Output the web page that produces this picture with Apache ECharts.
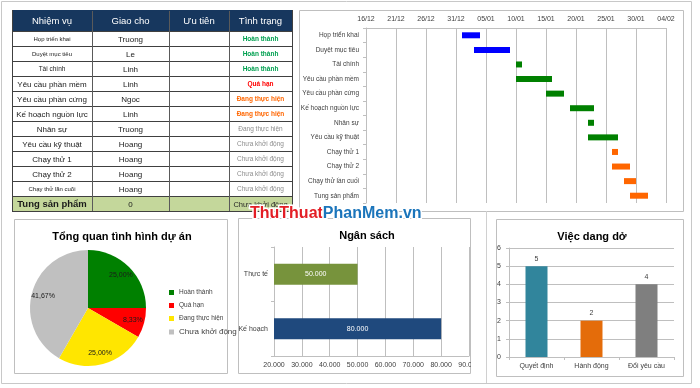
<!DOCTYPE html>
<html><head><meta charset="utf-8">
<script src="https://cdn.jsdelivr.net/npm/echarts@6/dist/echarts.min.js"></script>
<style>html,body{margin:0;padding:0;background:#fff}#c{width:700px;height:388px}</style>
</head><body><div id="c"></div>
<script>
// ---------- DATA ----------
const tasks = ['Họp triển khai','Duyệt mục tiêu','Tài chính','Yêu cầu phần mềm','Yêu cầu phần cứng','Kế hoạch nguồn lực','Nhân sự','Yêu cầu kỹ thuật','Chạy thử 1','Chạy thử 2','Chạy thử lần cuối','Tung sản phẩm'];
const assignees = ['Truong','Le','Linh','Linh','Ngoc','Linh','Truong','Hoang','Hoang','Hoang','Hoang','0'];
const statuses = ['Hoàn thành','Hoàn thành','Hoàn thành','Quá hạn','Đang thực hiện','Đang thực hiện','Đang thực hiện','Chưa khởi động','Chưa khởi động','Chưa khởi động','Chưa khởi động','Chưa khởi động'];
const tableHeaders = ['Nhiệm vụ','Giao cho','Ưu tiên','Tình trạng'];
const ganttStart = ['01/01','03/01','10/01','10/01','15/01','19/01','22/01','22/01','26/01','26/01','28/01','29/01'];
const ganttDays = [3,6,1,6,3,4,1,5,1,3,2,3];
const ganttTicks = ['16/12','21/12','26/12','31/12','05/01','10/01','15/01','20/01','25/01','30/01','04/02'];
const pieNames = ['Hoàn thành','Quá hạn','Đang thực hiện','Chưa khởi động'];
const pieValues = [3,1,3,5];
const budgetCats = ['Kế hoạch','Thực tế'];
const budgetValues = [80000,50000];
const backlogCats = ['Quyết định','Hành động','Đổi yêu cầu'];
const backlogValues = [5,2,4];

// ---------- STYLES ----------
const F = '"Liberation Sans", Arial, sans-serif';
const ganttColors = ['#0000ff','#0000ff','#008000','#008000','#008000','#008000','#008000','#008000','#ff6600','#ff6600','#ff6600','#ff6600'];
const taskFont = ['6px','6px','6.5px','8px','8px','8px','8px','8px','8px','8px','6px','bold 9.5px'];
const statusStyle = [
  ['bold 6.5px','#00a050'],['bold 6.5px','#00a050'],['bold 6.5px','#00a050'],['bold 6.5px','#ff0000'],
  ['bold 6.5px','#ff6600'],['bold 6.5px','#ff6600'],['6.5px','#8c8c8c'],['6.5px','#8c8c8c'],
  ['6.5px','#8c8c8c'],['6.5px','#8c8c8c'],['6.5px','#8c8c8c'],['7.5px','#262626']];
const pieColors = ['#008000','#ff0000','#ffe600','#c0c0c0'];
const budgetColors = ['#1f497d','#77933c'];
const backlogColors = ['#31859c','#e46c0a','#7f7f7f'];
const GRID = '#bfbfbf';

function dayIndex(s){ // days since 16/12
  const [d,m] = s.split('/').map(Number);
  if (m === 12) return d - 16;
  if (m === 1) return d + 15;
  return d + 46;
}
const ganttOffset = ganttStart.map(dayIndex);
const fmtDot = v => String(v).replace(/\B(?=(\d{3})+(?!\d))/g,'.');
const pieTotal = pieValues.reduce((a,b)=>a+b,0);

// ---------- TABLE (graphic) ----------
const g = [];
const colX = [12,92,169,229,292];
const tTop = 10, hH = 21, rH = 15;
const nRows = tasks.length;
const tBottom = tTop + hH + rH*nRows;
// frames
g.push({type:'rect', shape:{x:1.5,y:1.5,width:690,height:382}, style:{fill:'none',stroke:'#c8c8c8',lineWidth:1}});
g.push({type:'rect', shape:{x:299.5,y:10.5,width:384,height:201}, style:{fill:'#fff',stroke:GRID,lineWidth:1}, z:-10});
g.push({type:'rect', shape:{x:14.5,y:219.5,width:213,height:154}, style:{fill:'#fff',stroke:GRID,lineWidth:1}, z:-10});
g.push({type:'rect', shape:{x:238.5,y:218.5,width:232,height:155}, style:{fill:'#fff',stroke:GRID,lineWidth:1}, z:-10});
g.push({type:'rect', shape:{x:496.5,y:219.5,width:187,height:157}, style:{fill:'#fff',stroke:GRID,lineWidth:1}, z:-10});
g.push({type:'line', shape:{x1:486.5,y1:211,x2:486.5,y2:383}, style:{stroke:'#d0d0d0',lineWidth:1}});
// header
g.push({type:'rect', shape:{x:colX[0],y:tTop,width:colX[4]-colX[0],height:hH}, style:{fill:'#17375e'}});
// last row fill
g.push({type:'rect', shape:{x:colX[0],y:tTop+hH+rH*(nRows-1),width:colX[4]-colX[0],height:rH}, style:{fill:'#c4d79b'}});
tableHeaders.forEach((h,i)=>{
  g.push({type:'text', style:{text:h, x:(colX[i]+colX[i+1])/2, y:tTop+hH/2+1, align:'center', verticalAlign:'middle', font:'9.5px '+F, fill:'#fff'}});
});
// grid lines
for (let r=0;r<=nRows;r++){
  const y = tTop+hH+rH*r+0.5;
  g.push({type:'line', shape:{x1:colX[0],y1:y,x2:colX[4],y2:y}, style:{stroke:'#404040',lineWidth:1}});
}
colX.forEach((x,i)=>{
  g.push({type:'line', shape:{x1:x+0.5,y1:(i===0||i===4)?tTop:tTop+1,x2:x+0.5,y2:tBottom}, style:{stroke:(i===0||i===4)?'#404040':'#5a5a5a',lineWidth:1}});
});
tasks.forEach((t,r)=>{
  const cy = tTop+hH+rH*r+rH/2+1;
  g.push({type:'text', style:{text:t, x:(colX[0]+colX[1])/2, y:cy, align:'center', verticalAlign:'middle', font:taskFont[r]+' '+F, fill:'#1a1a1a'}});
  g.push({type:'text', style:{text:assignees[r], x:(colX[1]+colX[2])/2, y:cy, align:'center', verticalAlign:'middle', font:'8px '+F, fill:'#1a1a1a'}});
  g.push({type:'text', style:{text:statuses[r], x:(colX[3]+colX[4])/2, y:cy, align:'center', verticalAlign:'middle', font:statusStyle[r][0]+' '+F, fill:statusStyle[r][1]}});
});
// watermark
g.push({type:'text', z:100, style:{text:'{a|ThuThuat}{b|PhanMem.vn}', x:250, y:214, verticalAlign:'middle', font:'bold 16px '+F,
  rich:{a:{fill:'#e31e25',stroke:'#fff',lineWidth:3,font:'bold 16px '+F}, b:{fill:'#1b75bb',stroke:'#fff',lineWidth:3,font:'bold 16px '+F}}}});
// clip the cut axis label of the budget chart
g.push({type:'rect', z:100, shape:{x:471,y:358,width:14,height:14}, style:{fill:'#fff'}});

// ---------- CHART ----------
const chart = echarts.init(document.getElementById('c'), null, {renderer:'canvas'});
const axLab = {fontSize:7, color:'#404040', fontFamily:F};
chart.setOption({
  animation:false,
  backgroundColor:'#fff',
  title:[
    {text:'Tổng quan tình hình dự án', left:117, top:226, textAlign:'center', textStyle:{fontSize:11, fontWeight:'bold', color:'#000', fontFamily:F}},
    {text:'Ngân sách', left:362, top:225, textAlign:'center', textStyle:{fontSize:11, fontWeight:'bold', color:'#000', fontFamily:F}},
    {text:'Việc dang dở', left:587, top:226, textAlign:'center', textStyle:{fontSize:11, fontWeight:'bold', color:'#000', fontFamily:F}}
  ],
  legend:{data:pieNames.map((n,i)=>i===3?{name:n,textStyle:{fontSize:8}}:{name:n}), orient:'vertical', left:164, top:284, itemWidth:5, itemHeight:5, itemGap:6,
    icon:'rect', textStyle:{fontSize:6.5, color:'#404040', fontFamily:F}, selectedMode:false},
  grid:[
    {left:366, top:28, width:300, height:175},
    {left:274, top:247, width:195, height:109},
    {left:509, top:248, width:165, height:109}
  ],
  xAxis:[
    {gridIndex:0, type:'value', position:'top', min:0, max:50, interval:5,
     axisLabel:Object.assign({margin:5, formatter:v=>ganttTicks[Math.round(v/5)]}, axLab),
     axisLine:{show:true, lineStyle:{color:GRID}}, axisTick:{show:false}, splitLine:{show:true, lineStyle:{color:GRID}}},
    {gridIndex:1, type:'value', min:20000, max:90000, interval:10000,
     axisLabel:Object.assign({margin:6, formatter:v=>fmtDot(v)}, axLab),
     axisLine:{show:true, lineStyle:{color:GRID}}, axisTick:{show:false}, splitLine:{show:true, lineStyle:{color:GRID}}},
    {gridIndex:2, type:'category', data:backlogCats,
     axisLabel:Object.assign({margin:6}, axLab),
     axisLine:{show:true, lineStyle:{color:GRID}}, axisTick:{show:true, length:3, lineStyle:{color:GRID}}}
  ],
  yAxis:[
    {gridIndex:0, type:'category', data:tasks, inverse:true,
     axisLabel:{margin:7, fontSize:6.5, color:'#404040', fontFamily:F},
     axisLine:{show:true, lineStyle:{color:GRID}}, axisTick:{show:true, length:3, lineStyle:{color:GRID}}},
    {gridIndex:1, type:'category', data:budgetCats,
     axisLabel:Object.assign({margin:6}, axLab),
     axisLine:{show:true, lineStyle:{color:GRID}}, axisTick:{show:true, length:3, lineStyle:{color:GRID}}},
    {gridIndex:2, type:'value', min:0, max:6, interval:1,
     axisLabel:Object.assign({margin:8}, axLab),
     axisLine:{show:true, lineStyle:{color:GRID}}, axisTick:{show:true, length:3, lineStyle:{color:GRID}}, splitLine:{show:true, lineStyle:{color:GRID}}}
  ],
  series:[
    {type:'bar', xAxisIndex:0, yAxisIndex:0, stack:'g', data:ganttOffset, itemStyle:{color:'transparent'}, barWidth:6, silent:true},
    {type:'bar', xAxisIndex:0, yAxisIndex:0, stack:'g', barWidth:6,
     data:ganttDays.map((d,i)=>({value:d, itemStyle:{color:ganttColors[i]}}))},
    {type:'pie', center:[88,308], radius:58, startAngle:90, clockwise:true,
     data:pieNames.map((n,i)=>({name:n, value:pieValues[i], itemStyle:{color:pieColors[i]}})),
     label:{show:false}, labelLine:{show:false}},
    {type:'pie', center:[88,308], radius:[29,58], startAngle:90, clockwise:true, silent:true,
     data:pieNames.map((n,i)=>({name:n, value:pieValues[i], itemStyle:{color:'rgba(0,0,0,0)'}})),
     label:{show:true, position:'inside', fontSize:7, color:'#1a1a1a', fontFamily:F,
       formatter:p=>(p.value/pieTotal*100).toFixed(2).replace('.',',')+'%'}, labelLine:{show:false}},
    {type:'bar', xAxisIndex:1, yAxisIndex:1, barWidth:21,
     data:budgetValues.map((v,i)=>({value:v, itemStyle:{color:budgetColors[i]}})),
     label:{show:true, position:'inside', color:'#fff', fontSize:7, fontFamily:F, formatter:p=>fmtDot(p.value)}},
    {type:'bar', xAxisIndex:2, yAxisIndex:2, barWidth:22,
     data:backlogValues.map((v,i)=>({value:v, itemStyle:{color:backlogColors[i]}})),
     label:{show:true, position:'top', distance:4, color:'#404040', fontSize:7, fontFamily:F}}
  ],
  graphic:{elements:g}
});
</script></body></html>
